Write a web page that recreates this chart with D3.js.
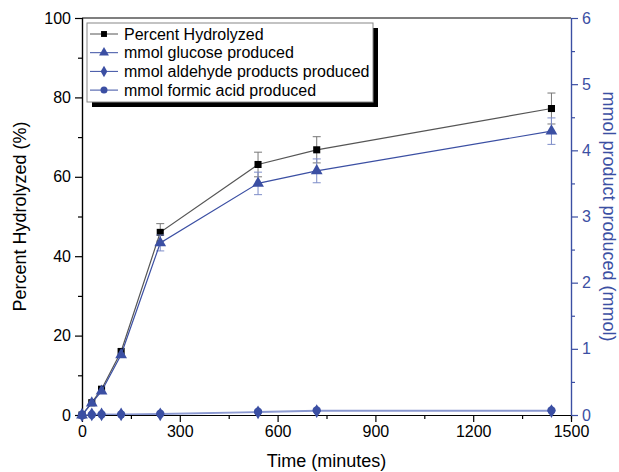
<!DOCTYPE html>
<html>
<head>
<meta charset="utf-8">
<script src="https://cdn.jsdelivr.net/npm/d3@7"></script>
<style>
  body { margin: 0; background: #fff; }
  svg { display: block; font-family: "Liberation Sans", Arial, sans-serif; }
</style>
</head>
<body>
<div id="chart"></div>
<script>
// time points (minutes)
const times = [0, 30, 60, 120, 240, 540, 720, 1440];
// left axis: percent hydrolyzed
const percentHydrolyzed = [0, 3.1, 6.5, 16.0, 46.0, 63.1, 66.8, 77.2];
const percentErr = [0, 0, 0, 0, 2.2, 3.1, 3.3, 3.9];
// right axis: mmol
const glucose = [0, 0.18, 0.36, 0.91, 2.60, 3.50, 3.69, 4.29];
const glucoseErr = [0, 0, 0, 0, 0.12, 0.17, 0.18, 0.2];
const aldehyde = [0, 0.01, 0.01, 0.01, 0.01, 0.04, 0.06, 0.06];
const formic = [0, 0.005, 0.01, 0.01, 0.02, 0.05, 0.07, 0.07];

const xTicks = [0, 300, 600, 900, 1200, 1500];
const yLeftTicks = [0, 20, 40, 60, 80, 100];
const yRightTicks = [0, 1, 2, 3, 4, 5, 6];

const legendLabels = ["Percent Hydrolyzed", "mmol glucose produced",
  "mmol aldehyde products produced", "mmol formic acid produced"];

const W = 619, H = 472;
const m = { left: 82, right: 48, top: 18, bottom: 57 };
const blue = "#3b4fa3";

const svg = d3.select("#chart").append("svg")
  .attr("width", W)
  .attr("height", H);

const x = d3.scaleLinear().domain([0, 1500]).range([m.left, W - m.right]);
const yL = d3.scaleLinear().domain([0, 100]).range([H - m.bottom, m.top]);
const yR = d3.scaleLinear().domain([0, 6]).range([H - m.bottom, m.top]);

// frame top line
svg.append("line")
  .attr("x1", m.left).attr("x2", W - m.right)
  .attr("y1", m.top).attr("y2", m.top)
  .attr("stroke", "#000").attr("stroke-width", 1.2);

function styleAxis(g, color, size) {
  g.select(".domain").attr("stroke", color).attr("stroke-width", 1.2);
  g.selectAll(".tick line").attr("stroke", color).attr("stroke-width", 1.2);
  g.selectAll(".tick text").attr("fill", color).style("font-size", size + "px");
}

// minor ticks
const gMinorX = svg.append("g")
  .attr("transform", `translate(0,${H - m.bottom})`)
  .call(d3.axisBottom(x).tickValues(d3.range(150, 1500, 300)).tickSize(4).tickFormat(""));
styleAxis(gMinorX, "#000", 16);
const gMinorL = svg.append("g")
  .attr("transform", `translate(${m.left},0)`)
  .call(d3.axisLeft(yL).tickValues(d3.range(10, 100, 20)).tickSize(4).tickFormat(""));
styleAxis(gMinorL, "#000", 16);
const gMinorR = svg.append("g")
  .attr("transform", `translate(${W - m.right},0)`)
  .call(d3.axisRight(yR).tickValues(d3.range(0.5, 6, 1)).tickSize(4).tickFormat(""));
styleAxis(gMinorR, blue, 16);

// major axes
const fmt = d3.format("d");
const gx = svg.append("g")
  .attr("transform", `translate(0,${H - m.bottom})`)
  .call(d3.axisBottom(x).tickValues(xTicks).tickFormat(fmt).tickSize(7).tickPadding(4).tickSizeOuter(0));
styleAxis(gx, "#000", 16);

const gyL = svg.append("g")
  .attr("transform", `translate(${m.left},0)`)
  .call(d3.axisLeft(yL).tickValues(yLeftTicks).tickFormat(fmt).tickSize(7).tickPadding(4).tickSizeOuter(0));
styleAxis(gyL, "#000", 16);

const gyR = svg.append("g")
  .attr("transform", `translate(${W - m.right},0)`)
  .call(d3.axisRight(yR).tickValues(yRightTicks).tickFormat(fmt).tickSize(7).tickPadding(4).tickSizeOuter(0));
styleAxis(gyR, blue, 16);

// axis titles
svg.append("text")
  .attr("x", (m.left + W - m.right) / 2).attr("y", H - 5)
  .attr("text-anchor", "middle")
  .style("font-size", "18px")
  .text("Time (minutes)");

svg.append("text")
  .attr("transform", `translate(26,${(m.top + H - m.bottom) / 2}) rotate(-90)`)
  .attr("text-anchor", "middle")
  .style("font-size", "18px")
  .text("Percent Hydrolyzed (%)");

svg.append("text")
  .attr("transform", `translate(603,${(m.top + H - m.bottom) / 2}) rotate(90)`)
  .attr("text-anchor", "middle")
  .attr("fill", blue)
  .style("font-size", "18px")
  .text("mmol product produced (mmol)");

// series
const series = [
  { vals: percentHydrolyzed, err: percentErr, y: yL, line: "#555", fill: "#000", errColor: "#777", shape: d3.symbolSquare, size: 50 },
  { vals: glucose, err: glucoseErr, y: yR, line: blue, fill: blue, errColor: "#7d8cc8", shape: d3.symbolTriangle, size: 60 },
  { vals: aldehyde, err: null, y: yR, line: "#8a98d0", fill: blue, shape: d3.symbolDiamond, size: 55 },
  { vals: formic, err: null, y: yR, line: "#8a98d0", fill: blue, shape: d3.symbolCircle, size: 55 }
];

series.forEach(s => {
  const pts = times.map((t, i) => ({ t, v: s.vals[i], e: s.err ? s.err[i] : 0 }));
  const g = svg.append("g");

  if (s.err) {
    const eb = g.selectAll(".err").data(pts.filter(d => d.e > 0)).join("g")
      .attr("stroke", s.errColor).attr("stroke-width", 1);
    eb.append("line")
      .attr("x1", d => x(d.t)).attr("x2", d => x(d.t))
      .attr("y1", d => s.y(d.v - d.e)).attr("y2", d => s.y(d.v + d.e));
    [1, -1].forEach(k => {
      eb.append("line")
        .attr("x1", d => x(d.t) - 4).attr("x2", d => x(d.t) + 4)
        .attr("y1", d => s.y(d.v + k * d.e)).attr("y2", d => s.y(d.v + k * d.e));
    });
  }

  g.append("path")
    .datum(pts)
    .attr("fill", "none")
    .attr("stroke", s.line)
    .attr("stroke-width", 1.2)
    .attr("d", d3.line().x(d => x(d.t)).y(d => s.y(d.v)));

  g.selectAll(".pt").data(pts).join("path")
    .attr("transform", d => `translate(${x(d.t)},${s.y(d.v)})`)
    .attr("d", d3.symbol().type(s.shape).size(s.size))
    .attr("fill", s.fill);
});

// legend
const lg = svg.append("g").attr("transform", "translate(87,23)");
const lgW = 286, lgH = 79;
lg.append("rect")
  .attr("x", 5).attr("y", 5).attr("width", lgW).attr("height", lgH)
  .attr("fill", "#000");
lg.append("rect")
  .attr("width", lgW).attr("height", lgH)
  .attr("fill", "#fff").attr("stroke", "#888").attr("stroke-width", 1);

legendLabels.forEach((lab, i) => {
  const s = series[i];
  const cy = 11 + i * 18.7;
  lg.append("line")
    .attr("x1", 3).attr("x2", 31).attr("y1", cy).attr("y2", cy)
    .attr("stroke", s.line === "#555" ? "#555" : blue).attr("stroke-width", 1);
  lg.append("path")
    .attr("transform", `translate(17,${cy})`)
    .attr("d", d3.symbol().type(s.shape).size(s.size * 0.7))
    .attr("fill", s.fill);
  lg.append("text")
    .attr("x", 37).attr("y", cy)
    .attr("dy", "0.35em")
    .style("font-size", "16px")
    .text(lab);
});
</script>
</body>
</html>
